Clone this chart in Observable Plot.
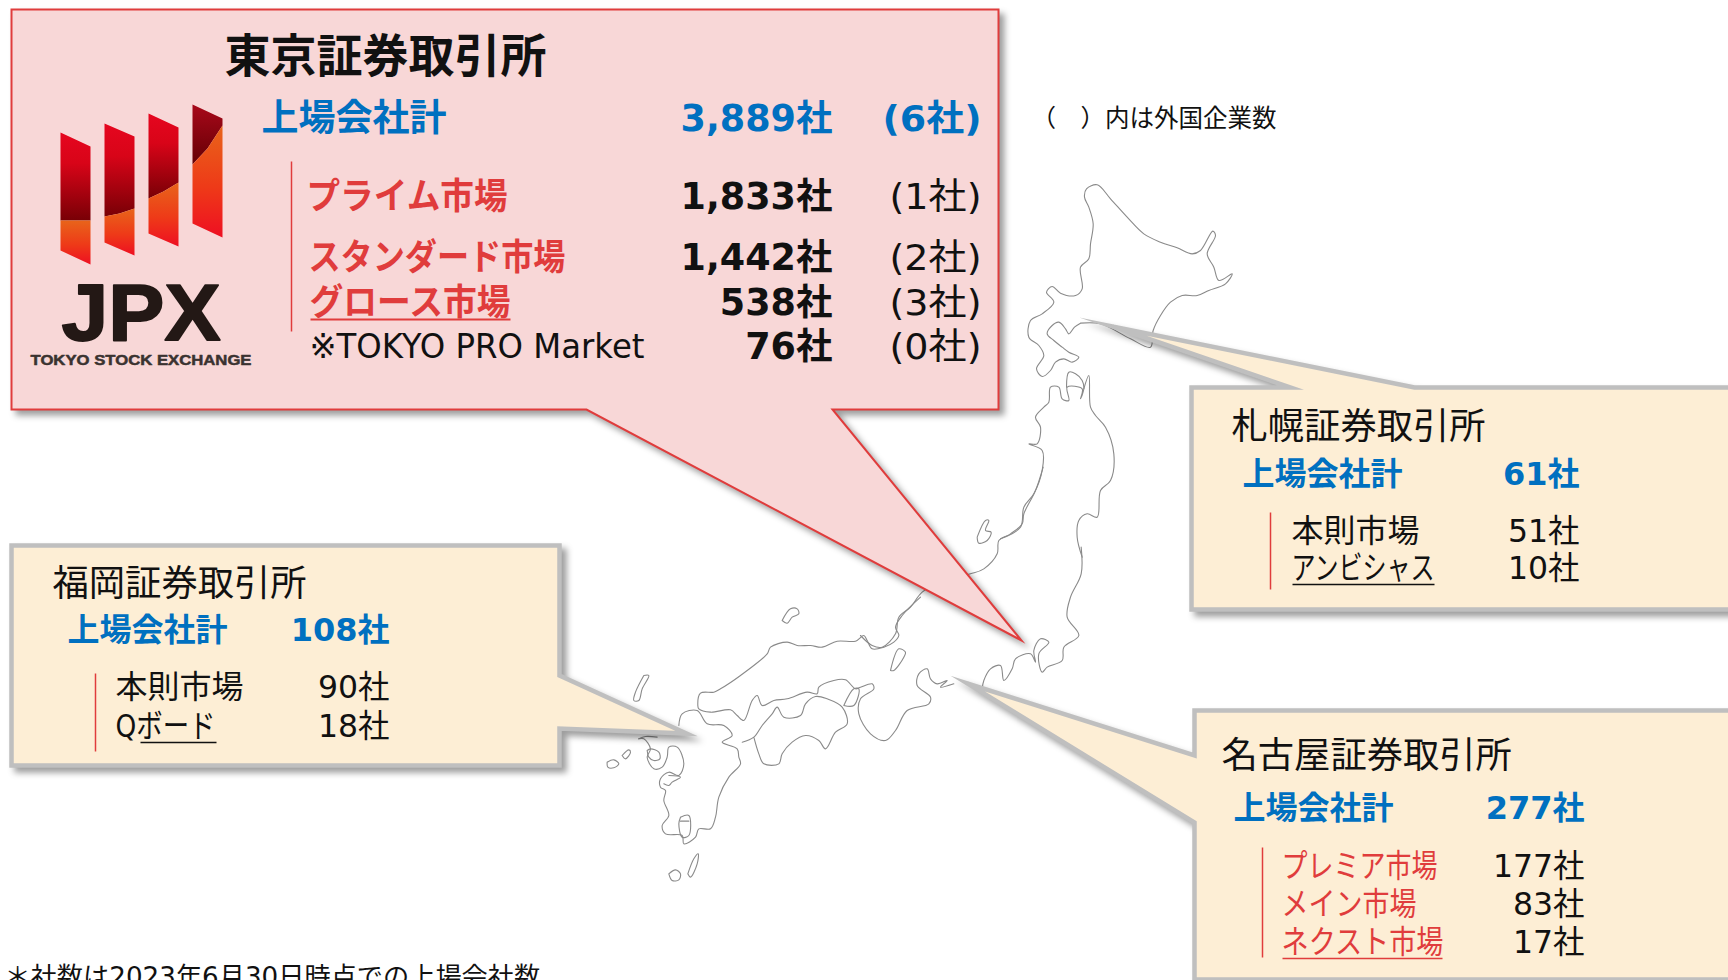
<!DOCTYPE html>
<html lang="ja">
<head>
<meta charset="utf-8">
<title>国内証券取引所の上場会社数</title>
<script src="https://cdn.jsdelivr.net/npm/d3@7"></script>
<script src="https://cdn.jsdelivr.net/npm/@observablehq/plot@0.6"></script>
<style>
  html, body { margin: 0; padding: 0; background: #fff; overflow: hidden; }
  svg { display: block; }
</style>
</head>
<body>
<div id="chart"></div>
<script>
// ---------- values ----------
const exchanges = ["東京証券取引所", "札幌証券取引所", "名古屋証券取引所", "福岡証券取引所"];
const totalLabel = "上場会社計";
const totals = [3889, 61, 277, 108];
const tokyoForeignTotal = 6;
const tokyoMarkets = ["プライム市場", "スタンダード市場", "グロース市場", "※TOKYO PRO Market"];
const tokyoCounts = [1833, 1442, 538, 76];
const tokyoForeign = [1, 2, 3, 0];
const sapporoMarkets = ["本則市場", "アンビシャス"];
const sapporoCounts = [51, 10];
const nagoyaMarkets = ["プレミア市場", "メイン市場", "ネクスト市場"];
const nagoyaCounts = [177, 83, 17];
const fukuokaMarkets = ["本則市場", "Qボード"];
const fukuokaCounts = [90, 18];
const foreignNote = "（　）内は外国企業数";
const dateNote = "＊社数は2023年6月30日時点での上場会社数";
const logoWord = "JPX";
const logoSub = "TOKYO STOCK EXCHANGE";

// ---------- outlines of the map ----------
const north = [1000, 160];
const mid = [860, 360];
const west = [690, 590];
const south = [600, 660];
const coastOutlines = [
  [north, [[240,488],[222,500],[205,520],[195,505],[175,485],[155,495],[140,520],[160,540],[185,560],[205,575],[235,590],[215,605],[190,595],[165,605],[150,630],[125,648],[108,625],[130,585],[115,555],[85,530],[90,480],[125,460],[160,425],[138,395],[155,378],[180,398],[225,405],[245,385],[240,320],[265,295],[270,250],[278,190],[265,140],[252,110],[258,85],[290,73],[330,115],[380,170],[430,220],[480,245],[530,262],[575,280],[600,270],[637,212],[645,225],[620,280],[640,320],[655,360],[695,340],[675,370],[625,390],[590,405],[545,405],[510,425],[480,465],[458,510],[450,560],[390,535],[300,490],[240,488]]],
  [north, [[0,1135],[60,1100],[70,1040],[100,1000],[125,930],[125,870],[85,850],[110,850],[120,800],[105,770],[130,740],[145,725],[150,680],[175,680],[185,715],[205,720],[200,680],[245,685],[240,715],[250,685],[245,660],[225,640],[205,635],[198,680]]],
  [north, [[250,685],[265,645],[270,740],[285,765],[315,800],[340,880],[330,960],[300,990],[290,1070],[260,1060],[235,1080],[230,1130],[245,1190]]],
  [mid, [[662,560],[662,640],[630,710],[620,770],[655,825],[610,860],[605,900],[560,920],[545,935],[535,880],[565,845],[540,835],[520,870],[525,905],[510,880],[465,895],[455,925],[430,960],[420,915],[390,925],[370,960],[365,985]]],
  [mid, [[548,320],[525,390],[490,460],[485,490],[450,520],[415,540],[410,580],[370,625],[330,640],[250,660],[185,695],[150,740],[115,770],[105,820],[65,860],[35,855],[0,825]]],
  [west, [[690,20],[635,75],[615,110],[625,135],[610,155],[580,170],[545,175],[530,150],[520,135],[495,152],[440,152],[395,170],[360,165],[320,165],[290,155],[240,170],[230,190],[150,255],[90,295],[70,305],[30,308],[22,345],[25,355],[60,365],[120,358],[140,375],[160,390],[185,330],[200,315],[215,345],[250,330],[290,325],[350,305],[380,310],[385,290],[430,270],[465,268],[495,295],[510,290],[545,280],[550,295],[510,325],[505,370],[540,430],[585,450],[615,420],[650,360],[715,340],[720,320],[680,285],[685,250],[710,235],[720,265],[740,280],[770,270],[750,290],[790,280]]],
  [west, [[155,455],[190,440],[215,405],[245,370],[260,350],[280,380],[330,375],[345,340],[375,318],[410,325],[455,350],[470,400],[435,425],[405,475],[385,450],[345,435],[305,455],[275,490],[265,520],[220,520],[205,490],[190,440]]],
  [west, [[460,345],[490,295],[505,295],[490,345],[460,345]]],
  [south, [[235,195],[245,160],[290,150],[320,190],[370,195],[395,225],[365,245],[410,265],[415,290],[420,310],[385,350],[355,410],[345,470],[330,505],[295,505],[285,530],[250,550],[245,525],[195,520],[185,495],[205,465],[190,420],[195,390],[180,380],[180,355],[205,335],[235,345],[250,310],[230,260],[205,260],[200,290],[185,320],[160,325],[140,290],[150,265],[130,235],[115,235]]],
  [south, [[205,345],[240,350],[215,365],[205,375],[190,370]]],
  [south, [[140,270],[150,265],[175,275],[178,295],[160,300],[145,290],[140,270]]],
  [south, [[115,235],[135,228],[170,230]]],
  [south, [[240,470],[265,465],[265,525],[245,530],[235,490],[240,470]]],
  [south, [[240,482],[265,482]]],
  [south, [[130,45],[145,45],[125,85],[115,120],[100,120],[105,95],[130,45]]],
  [south, [[20,305],[40,298],[55,310],[40,322],[22,320],[20,305]]],
  [south, [[65,285],[85,268],[90,275],[75,295],[65,285]]],
  [south, [[205,640],[225,628],[240,640],[235,658],[215,660],[205,640]]],
  [south, [[262,640],[280,595],[293,580],[290,610],[270,650],[262,640]]],
  [west, [[275,90],[300,55],[320,55],[325,70],[305,80],[290,98],[275,90]]],
  [west, [[600,240],[625,175],[645,185],[640,200],[610,240],[600,240]]],
  [mid, [[350,530],[375,480],[385,480],[375,510],[392,515],[380,540],[355,548],[350,530]]]
];
const coastRows = coastOutlines.flatMap(([o, pts], id) =>
  pts.map(([x, y]) => ({id, x: o[0] + x / 3, y: o[1] + y / 3})));

// ---------- callout shapes ----------
const polygon = (id, pts) => [...pts, pts[0], pts[1]].map(([x, y]) => ({id, x, y}));
const tokyoShape = polygon("tokyo", [[11,9],[998,9],[998,409],[832,409],[1021,640],[586,409],[11,409]]);
const sapporoShape = polygon("sapporo", [[1191,387],[1290,387],[1112,326],[1414,387],[1735,387],[1735,609],[1191,609]]);
const nagoyaShape = polygon("nagoya", [[1194,710],[1735,710],[1735,979],[1194,979],[1194,822],[967,683],[1194,755]]);
const fukuokaShape = polygon("fukuoka", [[11,545],[559,545],[559,675],[686,733],[559,728],[559,765],[11,765]]);

// ---------- JPX logo bars ----------
const bars = [
  {x0: 60,  x1: 90,  tl: 132, tr: 146, sl: 220, sm: 220, sr: 220, bl: 250, br: 264},
  {x0: 104, x1: 134, tl: 123, tr: 136, sl: 216, sm: 213, sr: 208, bl: 242, br: 255},
  {x0: 148, x1: 178, tl: 113, tr: 127, sl: 198, sm: 191, sr: 182, bl: 233, br: 246},
  {x0: 192, x1: 222, tl: 104, tr: 118, sl: 164, sm: 148, sr: 125, bl: 223, br: 237}
];
const barMid = b => (b.x0 + b.x1) / 2;
const barUpper = (b, i) => polygon(i, [[b.x0,b.tl],[b.x1,b.tr],[b.x1,b.sr],[barMid(b),b.sm],[b.x0,b.sl]]);
const barLower = (b, i) => polygon(i, [[b.x0,b.sl],[barMid(b),b.sm],[b.x1,b.sr],[b.x1,b.br],[b.x0,b.bl]]);

// ---------- colours and type ----------
const BLUE = "#0070c0", RED = "#e03c3c", INK = "#111111", PINK = "#f8d7d7", CREAM = "#fdeed5", EDGE = "#bfbfbf";
const FONT = "'DejaVu Sans','Noto Sans CJK JP',sans-serif";
const LOGO_FONT = "'Liberation Sans',sans-serif";
const yen = d => `${d3.format(",")(d)}社`;

// target drawn widths of the labels whose proportions differ from the installed fonts
const fitWidth = new Map([
  ["プライム市場", 201], ["スタンダード市場", 257], ["グロース市場", 201], ["※TOKYO PRO Market", 335],
  ["プレミア市場", 156], ["メイン市場", 135], ["ネクスト市場", 162], ["アンビシャス", 143], ["Qボード", 100],
  [logoWord, 159], [logoSub, 221],
  ["(6社)", 99], ["(1社)", 92], ["(2社)", 92], ["(3社)", 92], ["(0社)", 92]
]);

// ---------- text marks ----------
const label = (text, x, y, size, fill = INK, weight = 400, anchor = "start", family = FONT, extra = {}) =>
  Plot.text([text], {x: () => x, y: () => y + 1, text: d => d, fontSize: size, fill, fontWeight: weight,
    textAnchor: anchor, lineAnchor: "middle", fontFamily: family, ...extra});
const under = (x1, x2, y, stroke, strokeWidth = 1.6) =>
  Plot.link([0], {x1: () => x1, x2: () => x2, y1: () => y, y2: () => y, stroke, strokeWidth});
const divider = (x, y1, y2) =>
  Plot.link([0], {x1: () => x, x2: () => x, y1: () => y1, y2: () => y2, stroke: RED, strokeWidth: 1.5});

const SHADOW = "drop-shadow(5px 5px 3px rgba(0,0,0,0.38))";
const shape = (rows, fill, stroke, strokeWidth) =>
  Plot.line(rows, {x: "x", y: "y", z: "id", fill, stroke, strokeWidth, strokeLinejoin: "miter", strokeMiterlimit: 20,
    imageFilter: SHADOW});

// ---------- rows ----------
const tokyoRowY = [196, 257, 302, 346];
const tokyoLabelX = [306, 308, 309, 309];
const tokyoMarks = tokyoMarkets.flatMap((m, i) => [
  i < 3 ? label(m, tokyoLabelX[i], tokyoRowY[i], 36, RED, 700) : label(m, tokyoLabelX[i], tokyoRowY[i], 33, INK, 400),
  label(yen(tokyoCounts[i]), 832, tokyoRowY[i], 36.5, INK, 700, "end"),
  label(`(${tokyoForeign[i]}社)`, 981, tokyoRowY[i], 36, INK, 400, "end")
]);
const rowsOf = (names, counts, xName, xCount, ys, color) => names.flatMap((m, i) => [
  label(m, xName, ys[i] - 1.5, 32, color),
  label(yen(counts[i]), xCount, ys[i] - 1.5, 31.5, INK, 400, "end")
]);

const plot = Plot.plot({
  width: 1728,
  height: 980,
  margin: 0,
  x: {domain: [0, 1728], range: [0, 1728], axis: null},
  y: {domain: [0, 980], range: [0, 980], axis: null},
  marks: [
    () => {
      const defs = d3.create("svg:defs");
      const grad = (id, stops) => {
        const g = defs.append("linearGradient").attr("id", id).attr("x1", 0).attr("y1", 0).attr("x2", 0).attr("y2", 1);
        stops.forEach(([o, c]) => g.append("stop").attr("offset", o).attr("stop-color", c));
      };
      grad("logoUpper", [[0, "#e6061f"], [0.35, "#d80418"], [1, "#780006"]]);
      grad("logoUpperDark", [[0, "#a8081a"], [1, "#640004"]]);
      grad("logoLower", [[0, "#e8641a"], [0.55, "#ee3a18"], [1, "#ee0f22"]]);
      return defs.node();
    },

    // map
    Plot.line(coastRows, {x: "x", y: "y", z: "id", stroke: "#8a8a8a", strokeWidth: 1.1, curve: "catmull-rom",
      strokeLinejoin: "round", imageFilter: "blur(0.45px)"}),

    // callouts
    shape(tokyoShape, PINK, RED, 2),
    shape(sapporoShape, CREAM, EDGE, 4.5),
    shape(nagoyaShape, CREAM, EDGE, 4.5),
    shape(fukuokaShape, CREAM, EDGE, 4.5),

    // logo
    Plot.line(bars.slice(0, 3).flatMap(barUpper), {x: "x", y: "y", z: "id", fill: "url(#logoUpper)", stroke: "none"}),
    Plot.line(barUpper(bars[3], 3), {x: "x", y: "y", z: "id", fill: "url(#logoUpperDark)", stroke: "none"}),
    Plot.line(bars.flatMap(barLower), {x: "x", y: "y", z: "id", fill: "url(#logoLower)", stroke: "none"}),
    label(logoWord, 61, 313, 79, "#231815", 700, "start", LOGO_FONT, {stroke: "#231815", strokeWidth: 1.8}),
    label(logoSub, 30, 359, 15, "#3a3230", 700, "start", LOGO_FONT, {stroke: "#3a3230", strokeWidth: 0.5}),

    // Tokyo
    label(exchanges[0], 224, 56, 46, INK, 700),
    label(totalLabel, 261, 118, 37, BLUE, 700),
    label(yen(totals[0]), 832, 118, 36.5, BLUE, 700, "end"),
    label(`(${tokyoForeignTotal}社)`, 981, 118, 36, BLUE, 700, "end"),
    divider(291, 161, 331),
    ...tokyoMarks,
    under(310, 510, 319, RED, 2),

    // Sapporo
    label(exchanges[1], 1231, 426, 36.3),
    label(totalLabel, 1242, 473, 32, BLUE, 700),
    label(yen(totals[1]), 1579, 473, 32, BLUE, 700, "end"),
    divider(1270, 512, 589),
    ...rowsOf(sapporoMarkets, sapporoCounts, 1291, 1579, [532, 569], INK),
    under(1292, 1434, 584, INK),

    // Nagoya
    label(exchanges[2], 1221, 755, 36.3),
    label(totalLabel, 1233, 807, 32, BLUE, 700),
    label(yen(totals[2]), 1584, 807, 32, BLUE, 700, "end"),
    divider(1262, 847, 957),
    ...rowsOf(nagoyaMarkets, nagoyaCounts, 1281, 1584, [867, 905, 943], RED),
    under(1282, 1442, 958, RED),

    // Fukuoka
    label(exchanges[3], 52, 583, 36.3),
    label(totalLabel, 67, 629, 32, BLUE, 700),
    label(yen(totals[3]), 389, 629, 32, BLUE, 700, "end"),
    divider(95, 673, 751),
    ...rowsOf(fukuokaMarkets, fukuokaCounts, 115, 389, [688, 727], INK),
    under(140, 216, 742, INK),

    // notes
    label(foreignNote, 1031, 118, 24.5),
    label(dateNote, 4, 976, 26.2)
  ]
});

// labels whose proportions differ from the installed fonts are fitted to the picture
d3.select(plot).selectAll("text").each(function () {
  const w = fitWidth.get(this.textContent);
  if (w) d3.select(this).attr("textLength", w).attr("lengthAdjust", "spacingAndGlyphs");
});
document.getElementById("chart").append(plot);
</script>
</body>
</html>
